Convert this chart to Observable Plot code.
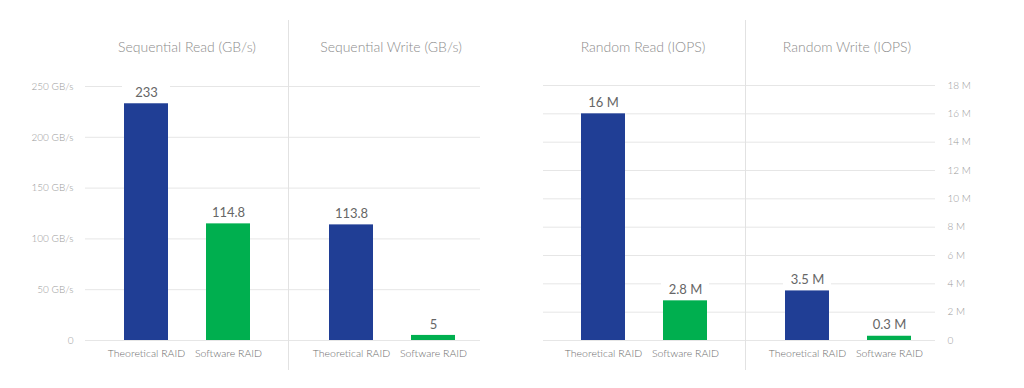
<!DOCTYPE html>
<html><head><meta charset="utf-8">
<script src="https://cdn.jsdelivr.net/npm/d3@7"></script>
<script src="https://cdn.jsdelivr.net/npm/@observablehq/plot@0.6"></script>
<style>
body{margin:0;background:#fff;}
#chart{position:relative;width:1024px;height:388px;font-family:Lato, "Open Sans", sans-serif;overflow:hidden;}
#chart svg{position:absolute;left:0;top:0;}
.title{position:absolute;top:38px;line-height:17px;transform:translateX(-50%);font-size:14px;font-weight:300;color:#8c8c8c;white-space:nowrap;}
.divider{position:absolute;top:20px;width:1px;height:350px;background:#e2e2e2;}
</style></head><body><div id="chart"></div>
<script>
// ---- data ----
const categories = ["Theoretical RAID", "Software RAID"];
const barColors = ["#203e95", "#00af4f"];
const panelTitles = ["Sequential Read (GB/s)", "Sequential Write (GB/s)", "Random Read (IOPS)", "Random Write (IOPS)"];
const seqReadValues = [233, 114.8];     // GB/s
const seqWriteValues = [113.8, 5];      // GB/s
const randReadValues = [16, 2.8];       // millions of IOPS
const randWriteValues = [3.5, 0.3];     // millions of IOPS
const gbTicks = [0, 50, 100, 150, 200, 250];
const iopsTicks = [0, 2, 4, 6, 8, 10, 12, 14, 16, 18];

const W = 1024, H = 388;
const chart = document.getElementById("chart");

function panel({values, yMax, yTicks, top, frameLeft, frameRight, centers, axis, tickFmt, labelFmt}) {
  const data = categories.map((c, i) => ({cat: c, v: values[i]}));
  const step = centers[1] - centers[0];
  const marks = [
    Plot.ruleY(yTicks, {stroke: "#e6e6e6", strokeWidth: 1}),
    Plot.barY(data, {x: "cat", y1: "v", y2: "v", insetTop: -18, insetLeft: -2, insetRight: -2, fill: "white"}),
    Plot.barY(data, {x: "cat", y: "v", fill: "cat"}),
    Plot.text(data, {x: "cat", y: "v", text: d => labelFmt(d.v), dy: -11, fill: "#666", fontSize: 13}),
    Plot.axisX({tickSize: 0, tickPadding: 9, fontSize: 10.5, fontWeight: 300, color: "#6e6e6e", label: null})
  ];
  if (axis) {
    marks.push(Plot.axisY({anchor: axis, ticks: yTicks, tickFormat: tickFmt, tickSize: 0, tickPadding: 12, fontSize: 10, fontWeight: 300, color: "#999", label: null}));
  }
  const svg = Plot.plot({
    width: W, height: H,
    marginLeft: frameLeft, marginRight: W - frameRight,
    marginTop: top, marginBottom: H - 340,
    style: {background: "transparent", fontFamily: "Lato, 'Open Sans', sans-serif", overflow: "visible"},
    x: {domain: categories, range: [centers[0] - step / 2, centers[1] + step / 2], paddingInner: 1 - 44 / step, paddingOuter: (1 - 44 / step) / 2, align: 0.5, axis: null},
    y: {domain: [0, yMax], axis: null},
    color: {domain: categories, range: barColors},
    marks
  });
  chart.appendChild(svg);
}

panel({values: seqReadValues, yMax: 250, yTicks: gbTicks, top: 86, frameLeft: 85, frameRight: 288, centers: [146, 228],
  axis: "left", tickFmt: d => d === 0 ? "0" : d + " GB/s", labelFmt: v => String(v)});
panel({values: seqWriteValues, yMax: 250, yTicks: gbTicks, top: 86, frameLeft: 288, frameRight: 480, centers: [351, 433],
  axis: null, labelFmt: v => String(v)});
panel({values: randReadValues, yMax: 18, yTicks: iopsTicks, top: 85, frameLeft: 543, frameRight: 745, centers: [603, 685],
  axis: null, labelFmt: v => v + " M"});
panel({values: randWriteValues, yMax: 18, yTicks: iopsTicks, top: 85, frameLeft: 745, frameRight: 935, centers: [807, 889],
  axis: "right", tickFmt: d => d === 0 ? "0" : d + " M", labelFmt: v => v + " M"});

// titles and panel dividers
const titleCenters = [187, 391, 643, 847];
panelTitles.forEach((t, i) => {
  const d = document.createElement("div");
  d.className = "title"; d.textContent = t; d.style.left = titleCenters[i] + "px";
  chart.appendChild(d);
});
[288, 745].forEach(x => {
  const d = document.createElement("div");
  d.className = "divider"; d.style.left = x + "px";
  chart.appendChild(d);
});
</script>
</body></html>
